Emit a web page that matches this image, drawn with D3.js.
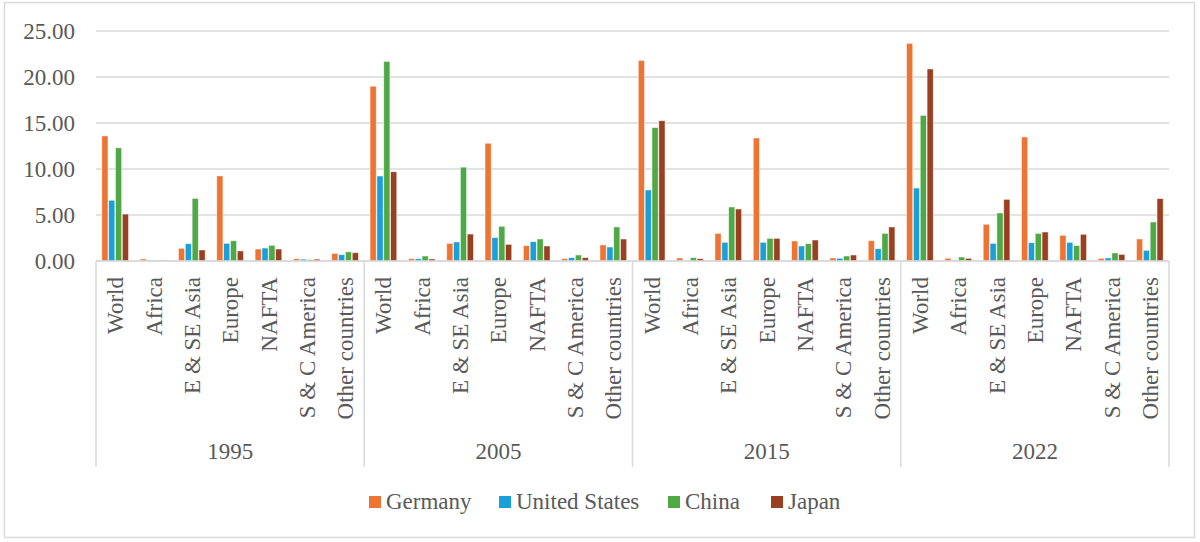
<!DOCTYPE html>
<html>
<head>
<meta charset="utf-8">
<script src="https://cdn.jsdelivr.net/npm/d3@7/dist/d3.min.js"></script>
<style>
  body { margin: 0; background: #fff; }
</style>
</head>
<body>
<svg id="chart" width="1200" height="542" font-family="'Liberation Serif', 'Times New Roman', Tinos, 'DejaVu Serif', serif"></svg>
<script>
// data
const years = ["1995", "2005", "2015", "2022"];
const regions = ["World", "Africa", "E & SE Asia", "Europe", "NAFTA", "S & C America", "Other countries"];
const series = ["Germany", "United States", "China", "Japan"];
const colors = ["#ED7432", "#1A9FD9", "#4EA844", "#9A3F1F"];
const yTicks = [0, 5, 10, 15, 20, 25];

// values per year, row = region, col = series
const germany = {
  "1995": [13.6, 0.22, 1.38, 9.25, 1.3, 0.25, 0.83],
  "2005": [19.0, 0.25, 1.92, 12.8, 1.67, 0.25, 1.74],
  "2015": [21.8, 0.33, 3.0, 13.37, 2.17, 0.33, 2.21],
  "2022": [23.66, 0.29, 3.99, 13.48, 2.79, 0.29, 2.39]
};
const unitedStates = {
  "1995": [6.6, 0.1, 1.88, 1.92, 1.41, 0.2, 0.69],
  "2005": [9.24, 0.25, 2.07, 2.54, 2.1, 0.36, 1.52],
  "2015": [7.72, 0.05, 2.03, 2.03, 1.63, 0.29, 1.34],
  "2022": [7.93, 0.1, 1.92, 1.99, 2.03, 0.33, 1.16]
};
const china = {
  "1995": [12.3, 0.1, 6.8, 2.2, 1.7, 0.15, 1.0],
  "2005": [21.7, 0.54, 10.2, 3.77, 2.39, 0.65, 3.7],
  "2015": [14.5, 0.36, 5.87, 2.46, 1.88, 0.54, 3.0],
  "2022": [15.83, 0.43, 5.22, 3.0, 1.67, 0.87, 4.24]
};
const japan = {
  "1995": [5.1, 0.1, 1.2, 1.09, 1.3, 0.2, 0.9],
  "2005": [9.7, 0.22, 2.93, 1.81, 1.63, 0.36, 2.39],
  "2015": [15.25, 0.25, 5.65, 2.46, 2.28, 0.65, 3.7],
  "2022": [20.87, 0.29, 6.7, 3.15, 2.9, 0.72, 6.78]
};
const seriesData = [germany, unitedStates, china, japan];

const svg = d3.select("#chart");
const plot = { left: 96, right: 1169, top: 31, bottom: 261 };
const gridColor = "#d9d9d9";
const textColor = "#595959";
const fontSize = "23px";

// outer frame
svg.append("rect")
  .attr("x", 4.5).attr("y", 2.5)
  .attr("width", 1190).attr("height", 535)
  .attr("fill", "none").attr("stroke", gridColor).attr("stroke-width", 1.5);

const y = d3.scaleLinear().domain([0, 25]).range([plot.bottom, plot.top]);
const xYear = d3.scaleBand().domain(years).range([plot.left, plot.right]);
const xRegion = d3.scaleBand().domain(regions).range([0, xYear.bandwidth()]);
const xSeries = d3.scaleBand().domain(series).range([0, xRegion.bandwidth()])
  .paddingInner(0.1).paddingOuter(0.85);
const color = d3.scaleOrdinal().domain(series).range(colors);

// gridlines + y labels
const yAxis = svg.append("g");
yTicks.forEach(t => {
  yAxis.append("line")
    .attr("x1", plot.left).attr("x2", plot.right)
    .attr("y1", y(t)).attr("y2", y(t))
    .attr("stroke", gridColor).attr("stroke-width", 1.5);
  yAxis.append("text")
    .attr("x", 75).attr("y", y(t) + 8)
    .attr("text-anchor", "end")
    .attr("fill", textColor)
    .style("font-size", fontSize)
    .text(d3.format(".2f")(t));
});

// bars
const rows = [];
years.forEach(yr => regions.forEach((r, ri) => series.forEach((s, si) => {
  rows.push({ year: yr, region: r, series: s, value: seriesData[si][yr][ri] });
})));

svg.append("g").selectAll("rect")
  .data(rows)
  .enter().append("rect")
  .attr("x", d => xYear(d.year) + xRegion(d.region) + xSeries(d.series))
  .attr("y", d => y(d.value))
  .attr("width", xSeries.bandwidth())
  .attr("height", d => y(0) - y(d.value))
  .attr("fill", d => color(d.series))
  .attr("stroke", "#fff")
  .attr("stroke-opacity", 0.6)
  .attr("stroke-width", 0.8);

// category axis: separators, region labels, year labels
const xAxis = svg.append("g");
xAxis.append("line")
  .attr("x1", plot.left).attr("x2", plot.right)
  .attr("y1", plot.bottom).attr("y2", plot.bottom)
  .attr("stroke", gridColor).attr("stroke-width", 1.5);

years.concat([null]).forEach(yr => {
  const xx = yr ? xYear(yr) : plot.right;
  xAxis.append("line")
    .attr("x1", xx).attr("x2", xx)
    .attr("y1", plot.bottom).attr("y2", 467)
    .attr("stroke", gridColor).attr("stroke-width", 1.5);
});

years.forEach(yr => {
  regions.forEach(r => {
    const cx = xYear(yr) + xRegion(r) + xRegion.bandwidth() / 2;
    xAxis.append("text")
      .attr("transform", `translate(${cx},277) rotate(-90)`)
      .attr("text-anchor", "end")
      .attr("dy", "0.35em")
      .attr("fill", textColor)
      .style("font-size", fontSize)
      .text(r);
  });
  xAxis.append("text")
    .attr("x", xYear(yr) + xYear.bandwidth() / 2)
    .attr("y", 459)
    .attr("text-anchor", "middle")
    .attr("fill", textColor)
    .style("font-size", fontSize)
    .text(yr);
});

// legend
const legendX = [369, 499, 668, 771];
const legend = svg.append("g");
series.forEach((s, i) => {
  legend.append("rect")
    .attr("x", legendX[i]).attr("y", 496)
    .attr("width", 12).attr("height", 12)
    .attr("fill", color(s));
  legend.append("text")
    .attr("x", legendX[i] + 17).attr("y", 509)
    .attr("fill", textColor)
    .style("font-size", fontSize)
    .text(s);
});
</script>
</body>
</html>
